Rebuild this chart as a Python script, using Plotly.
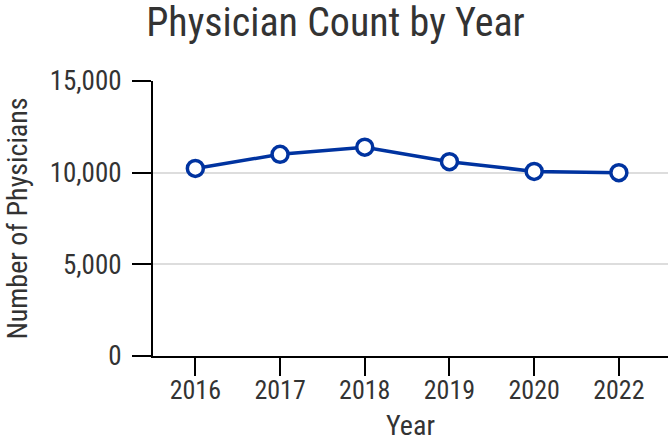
import plotly.graph_objects as go

years = ["2016", "2017", "2018", "2019", "2020", "2022"]
physicians = [10230, 11000, 11390, 10600, 10070, 10000]
y_ticks = [0, 5000, 10000, 15000]
y_tick_text = ["0", "5,000", "10,000", "15,000"]

FONT = "Roboto Condensed, Liberation Sans Narrow, Roboto, sans-serif"
BLUE = "#0033a0"

fig = go.Figure(go.Scatter(
    x=years, y=physicians, mode="lines+markers",
    line=dict(color=BLUE, width=3.5),
    marker=dict(size=16, color="white", line=dict(color=BLUE, width=3.5)),
    cliponaxis=False,
))

fig.update_layout(
    width=671, height=442,
    margin=dict(l=153, r=3, t=81, b=86),
    paper_bgcolor="white", plot_bgcolor="white",
    font=dict(family=FONT, color="#333333", size=24),
    title=dict(text="Physician Count by Year", x=0.5, xanchor="center",
               y=0.95, yanchor="middle", font=dict(size=40, color="#333333")),
    showlegend=False,
    xaxis=dict(
        type="category", range=[-0.5, 5.58], automargin=False,
        showline=True, linecolor="black", linewidth=2,
        ticks="outside", ticklen=18, tickwidth=2, tickcolor="black",
        showgrid=False, ticklabelstandoff=-8,
        title=dict(text="Year", standoff=18, font=dict(size=28)),
        tickfont=dict(size=26),
    ),
    yaxis=dict(
        range=[0, 15000], tickvals=y_ticks, ticktext=y_tick_text,
        automargin=False,
        showline=True, linecolor="black", linewidth=2,
        ticks="outside", ticklen=19, tickwidth=2, tickcolor="black",
        showgrid=True, gridcolor="#dddddd", gridwidth=1.5,
        zeroline=False, ticklabelstandoff=5,
        title=dict(text="Number of Physicians", standoff=14, font=dict(size=28)),
        tickfont=dict(size=27),
    ),
)

fig.write_html("out.html", config={"displayModeBar": False},
               post_script="document.body.style.margin='0';document.body.style.padding='0';")
